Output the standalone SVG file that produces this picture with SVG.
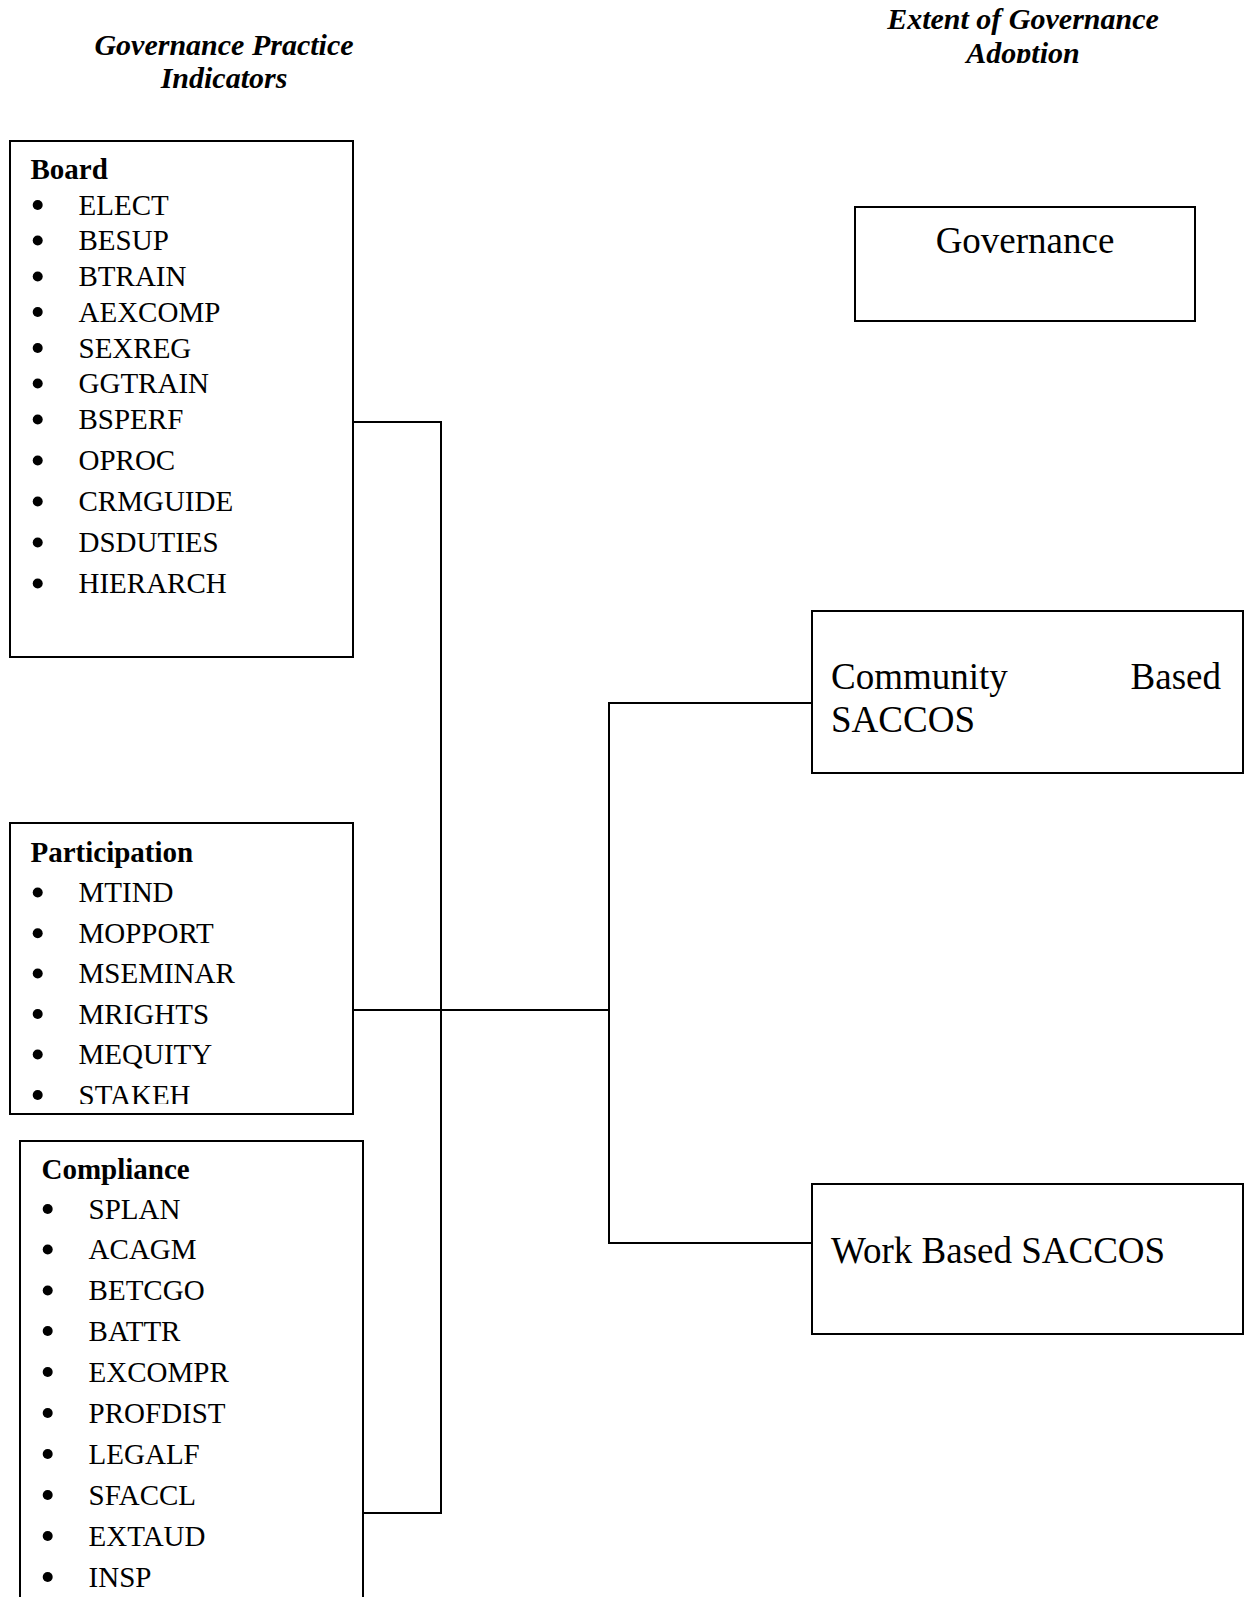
<svg xmlns="http://www.w3.org/2000/svg" width="1248" height="1597" viewBox="0 0 1248 1597">
<style>
.box{fill:#fff;stroke:#000;stroke-width:2}
.ln{fill:none;stroke:#000;stroke-width:2}
.t{font-family:"Liberation Serif","Times New Roman",serif;font-size:29px;fill:#000}
.h{font-weight:bold}
.ttl{font-family:"Liberation Serif","Times New Roman",serif;font-size:30px;font-weight:bold;font-style:italic;text-anchor:middle;fill:#000}
.big{font-family:"Liberation Serif","Times New Roman",serif;font-size:37px;fill:#000}
.dot{fill:#000}
</style>
<defs>
<clipPath id="clipTop"><rect x="0" y="0" width="1248" height="63"/></clipPath>
<clipPath id="clipPart"><rect x="0" y="823" width="360" height="281"/></clipPath>
</defs>
<rect x="0" y="0" width="1248" height="1597" fill="#fff"/>

<g id="title-left">
<text class="ttl" x="224" y="55">Governance Practice</text>
<text class="ttl" x="224" y="88">Indicators</text>
</g>
<g id="title-right" clip-path="url(#clipTop)">
<text class="ttl" x="1023" y="29">Extent of Governance</text>
<text class="ttl" x="1023" y="63">Adoption</text>
</g>

<g id="connectors">
<polyline class="ln" points="353,422 441,422 441,1513 363,1513"/>
<line class="ln" x1="353" y1="1010" x2="609" y2="1010"/>
<polyline class="ln" points="812,703 609,703 609,1243 812,1243"/>
</g>

<g id="board">
<rect class="box" x="10" y="141" width="343" height="516"/>
<text class="t h" x="30.5" y="178.5">Board</text>
<g class="dot">
<circle cx="37.7" cy="205" r="5"/><circle cx="37.7" cy="240.5" r="5"/><circle cx="37.7" cy="276.5" r="5"/>
<circle cx="37.7" cy="312" r="5"/><circle cx="37.7" cy="348" r="5"/><circle cx="37.7" cy="383.5" r="5"/>
<circle cx="37.7" cy="419.5" r="5"/><circle cx="37.7" cy="460.5" r="5"/><circle cx="37.7" cy="501.5" r="5"/>
<circle cx="37.7" cy="542.5" r="5"/><circle cx="37.7" cy="583.5" r="5"/>
</g>
<g class="t">
<text x="78.5" y="214.5">ELECT</text>
<text x="78.5" y="250">BESUP</text>
<text x="78.5" y="286">BTRAIN</text>
<text x="78.5" y="321.5">AEXCOMP</text>
<text x="78.5" y="357.5">SEXREG</text>
<text x="78.5" y="393">GGTRAIN</text>
<text x="78.5" y="429">BSPERF</text>
<text x="78.5" y="470">OPROC</text>
<text x="78.5" y="511">CRMGUIDE</text>
<text x="78.5" y="552">DSDUTIES</text>
<text x="78.5" y="593">HIERARCH</text>
</g>
</g>

<g id="participation">
<rect class="box" x="10" y="823" width="343" height="291"/>
<g class="dot">
<circle cx="37.7" cy="892.5" r="5"/><circle cx="37.7" cy="933.2" r="5"/><circle cx="37.7" cy="973.5" r="5"/>
<circle cx="37.7" cy="1014" r="5"/><circle cx="37.7" cy="1054.5" r="5"/><circle cx="37.7" cy="1095" r="5"/>
</g>
<g class="t" clip-path="url(#clipPart)">
<text class="h" x="30.5" y="862">Participation</text>
<text x="78.5" y="902">MTIND</text>
<text x="78.5" y="942.7">MOPPORT</text>
<text x="78.5" y="983">MSEMINAR</text>
<text x="78.5" y="1023.5">MRIGHTS</text>
<text x="78.5" y="1064">MEQUITY</text>
<text x="78.5" y="1104.5">STAKEH</text>
</g>
</g>

<g id="compliance">
<rect class="box" x="20" y="1141" width="343" height="500"/>
<g class="dot">
<circle cx="47.7" cy="1209" r="5"/><circle cx="47.7" cy="1249.5" r="5"/><circle cx="47.7" cy="1290.5" r="5"/>
<circle cx="47.7" cy="1331" r="5"/><circle cx="47.7" cy="1372" r="5"/><circle cx="47.7" cy="1413" r="5"/>
<circle cx="47.7" cy="1454" r="5"/><circle cx="47.7" cy="1495" r="5"/><circle cx="47.7" cy="1536" r="5"/>
<circle cx="47.7" cy="1577" r="5"/>
</g>
<g class="t">
<text class="h" x="41.5" y="1178.5">Compliance</text>
<text x="88.6" y="1218.5">SPLAN</text>
<text x="88.6" y="1259">ACAGM</text>
<text x="88.6" y="1300">BETCGO</text>
<text x="88.6" y="1340.5">BATTR</text>
<text x="88.6" y="1381.5">EXCOMPR</text>
<text x="88.6" y="1422.5">PROFDIST</text>
<text x="88.6" y="1463.5">LEGALF</text>
<text x="88.6" y="1504.5">SFACCL</text>
<text x="88.6" y="1545.5">EXTAUD</text>
<text x="88.6" y="1586.5">INSP</text>
</g>
</g>

<g id="governance">
<rect class="box" x="855" y="207" width="340" height="114"/>
<text class="big" x="1025" y="253" text-anchor="middle">Governance</text>
</g>

<g id="community">
<rect class="box" x="812" y="611" width="431" height="162"/>
<text class="big" x="831" y="689">Community</text>
<text class="big" x="1221" y="689" text-anchor="end">Based</text>
<text class="big" x="831" y="731.5">SACCOS</text>
</g>

<g id="work">
<rect class="box" x="812" y="1184" width="431" height="150"/>
<text class="big" x="831" y="1263">Work Based SACCOS</text>
</g>
</svg>
